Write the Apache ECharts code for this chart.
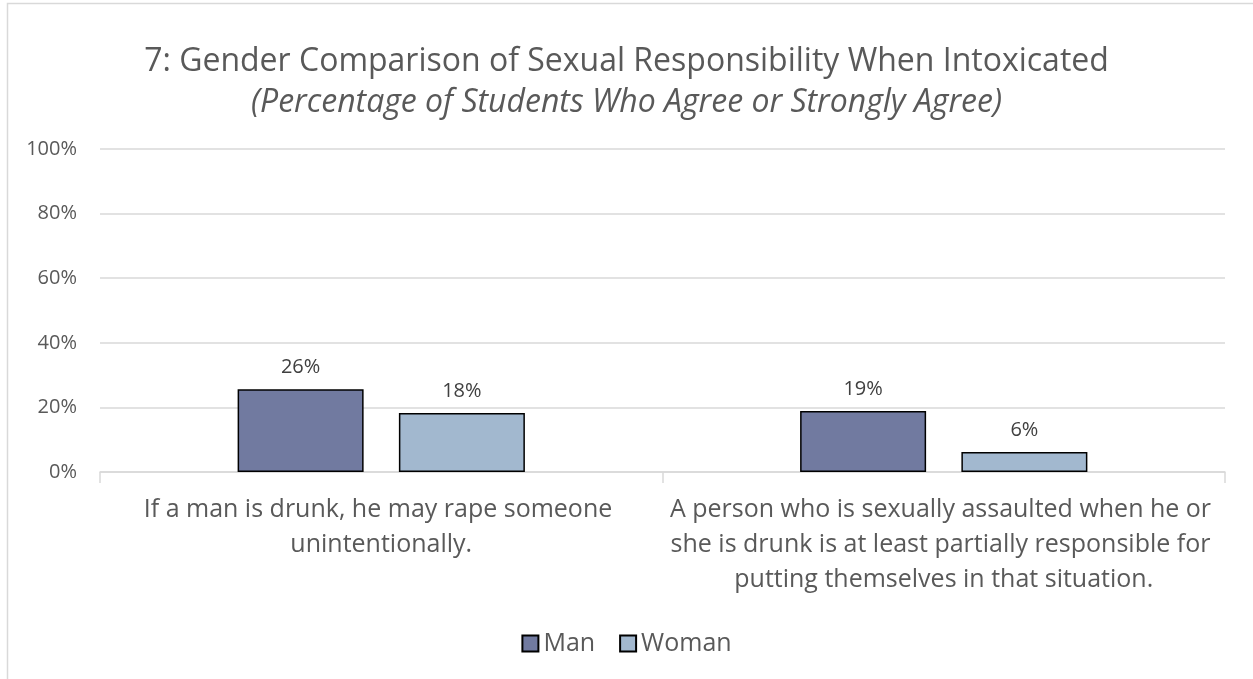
<!DOCTYPE html>
<html>
<head>
<meta charset="utf-8">
<script src="https://cdn.jsdelivr.net/npm/echarts@6/dist/echarts.min.js"></script>
<style>
html,body{margin:0;padding:0;background:#fff;}
#chart{width:1253px;height:679px;}
</style>
</head>
<body>
<div id="chart"></div>
<script>
var titleText = '7: Gender Comparison of Sexual Responsibility When Intoxicated';
var subtitleText = '(Percentage of Students Who Agree or Strongly Agree)';
var categories = [
  'If a man is drunk, he may rape someone unintentionally.',
  'A person who is sexually assaulted when he or she is drunk is at least partially responsible for putting themselves in that situation.'
];
var seriesNames = ['Man', 'Woman'];
var manValues = [25.6, 18.9];
var womanValues = [18.3, 6.2];
var valueLabels = { Man: ['26%', '19%'], Woman: ['18%', '6%'] };
var yTicks = [0, 20, 40, 60, 80, 100];

var FONT = '"Open Sans", "Liberation Sans", sans-serif';
var chart = echarts.init(document.getElementById('chart'));

function mkSeries(name, values, color) {
  return {
    name: name,
    type: 'bar',
    data: values,
    barWidth: 126,
    barGap: '28%',
    itemStyle: { color: color, borderColor: '#000', borderWidth: 1.5 },
    label: {
      show: true,
      position: 'top',
      distance: 12,
      color: '#404040',
      fontFamily: FONT,
      fontSize: 20,
      formatter: function (p) { return valueLabels[name][p.dataIndex]; }
    }
  };
}

chart.setOption({
  backgroundColor: '#fff',
  animation: false,
  graphic: [{
    type: 'rect',
    shape: { x: 7.5, y: 3.5, width: 1300, height: 720 },
    style: { fill: 'none', stroke: '#d9d9d9', lineWidth: 1.5 },
    silent: true,
    z: -1
  }],
  title: [{
    text: titleText,
    left: 'center',
    top: 41,
    textStyle: { fontFamily: FONT, fontSize: 32, fontWeight: 'normal', color: '#595959' }
  }, {
    text: subtitleText,
    left: 'center',
    top: 82,
    textStyle: { fontFamily: FONT, fontSize: 32, fontWeight: 'normal', fontStyle: 'italic', color: '#595959' }
  }],
  legend: {
    data: seriesNames,
    top: 626,
    left: 'center',
    icon: 'rect',
    itemWidth: 16,
    itemHeight: 16,
    itemGap: 24,
    textStyle: { fontFamily: FONT, fontSize: 25, color: '#595959' }
  },
  grid: { left: 100, right: 28, top: 149, bottom: 207, containLabel: false },
  xAxis: {
    type: 'category',
    data: categories,
    axisLine: { show: true, lineStyle: { color: '#d9d9d9', width: 1.5 } },
    axisTick: { show: true, length: 11, lineStyle: { color: '#d9d9d9', width: 1.5 } },
    axisLabel: {
      interval: 0,
      margin: 20,
      width: 560,
      overflow: 'break',
      lineHeight: 35,
      fontFamily: FONT,
      fontSize: 25,
      color: '#595959',
      align: 'center'
    }
  },
  yAxis: {
    type: 'value',
    min: yTicks[0],
    max: yTicks[yTicks.length - 1],
    interval: 20,
    axisLine: { show: false },
    axisTick: { show: false },
    splitLine: { lineStyle: { color: '#d9d9d9', width: 1.5 } },
    axisLabel: {
      margin: 23,
      fontFamily: FONT,
      fontSize: 20,
      color: '#595959',
      formatter: function (v) { return v + '%'; }
    }
  },
  series: [
    mkSeries('Man', manValues, '#717aa0'),
    mkSeries('Woman', womanValues, '#a2b8cf')
  ]
});
</script>
</body>
</html>
